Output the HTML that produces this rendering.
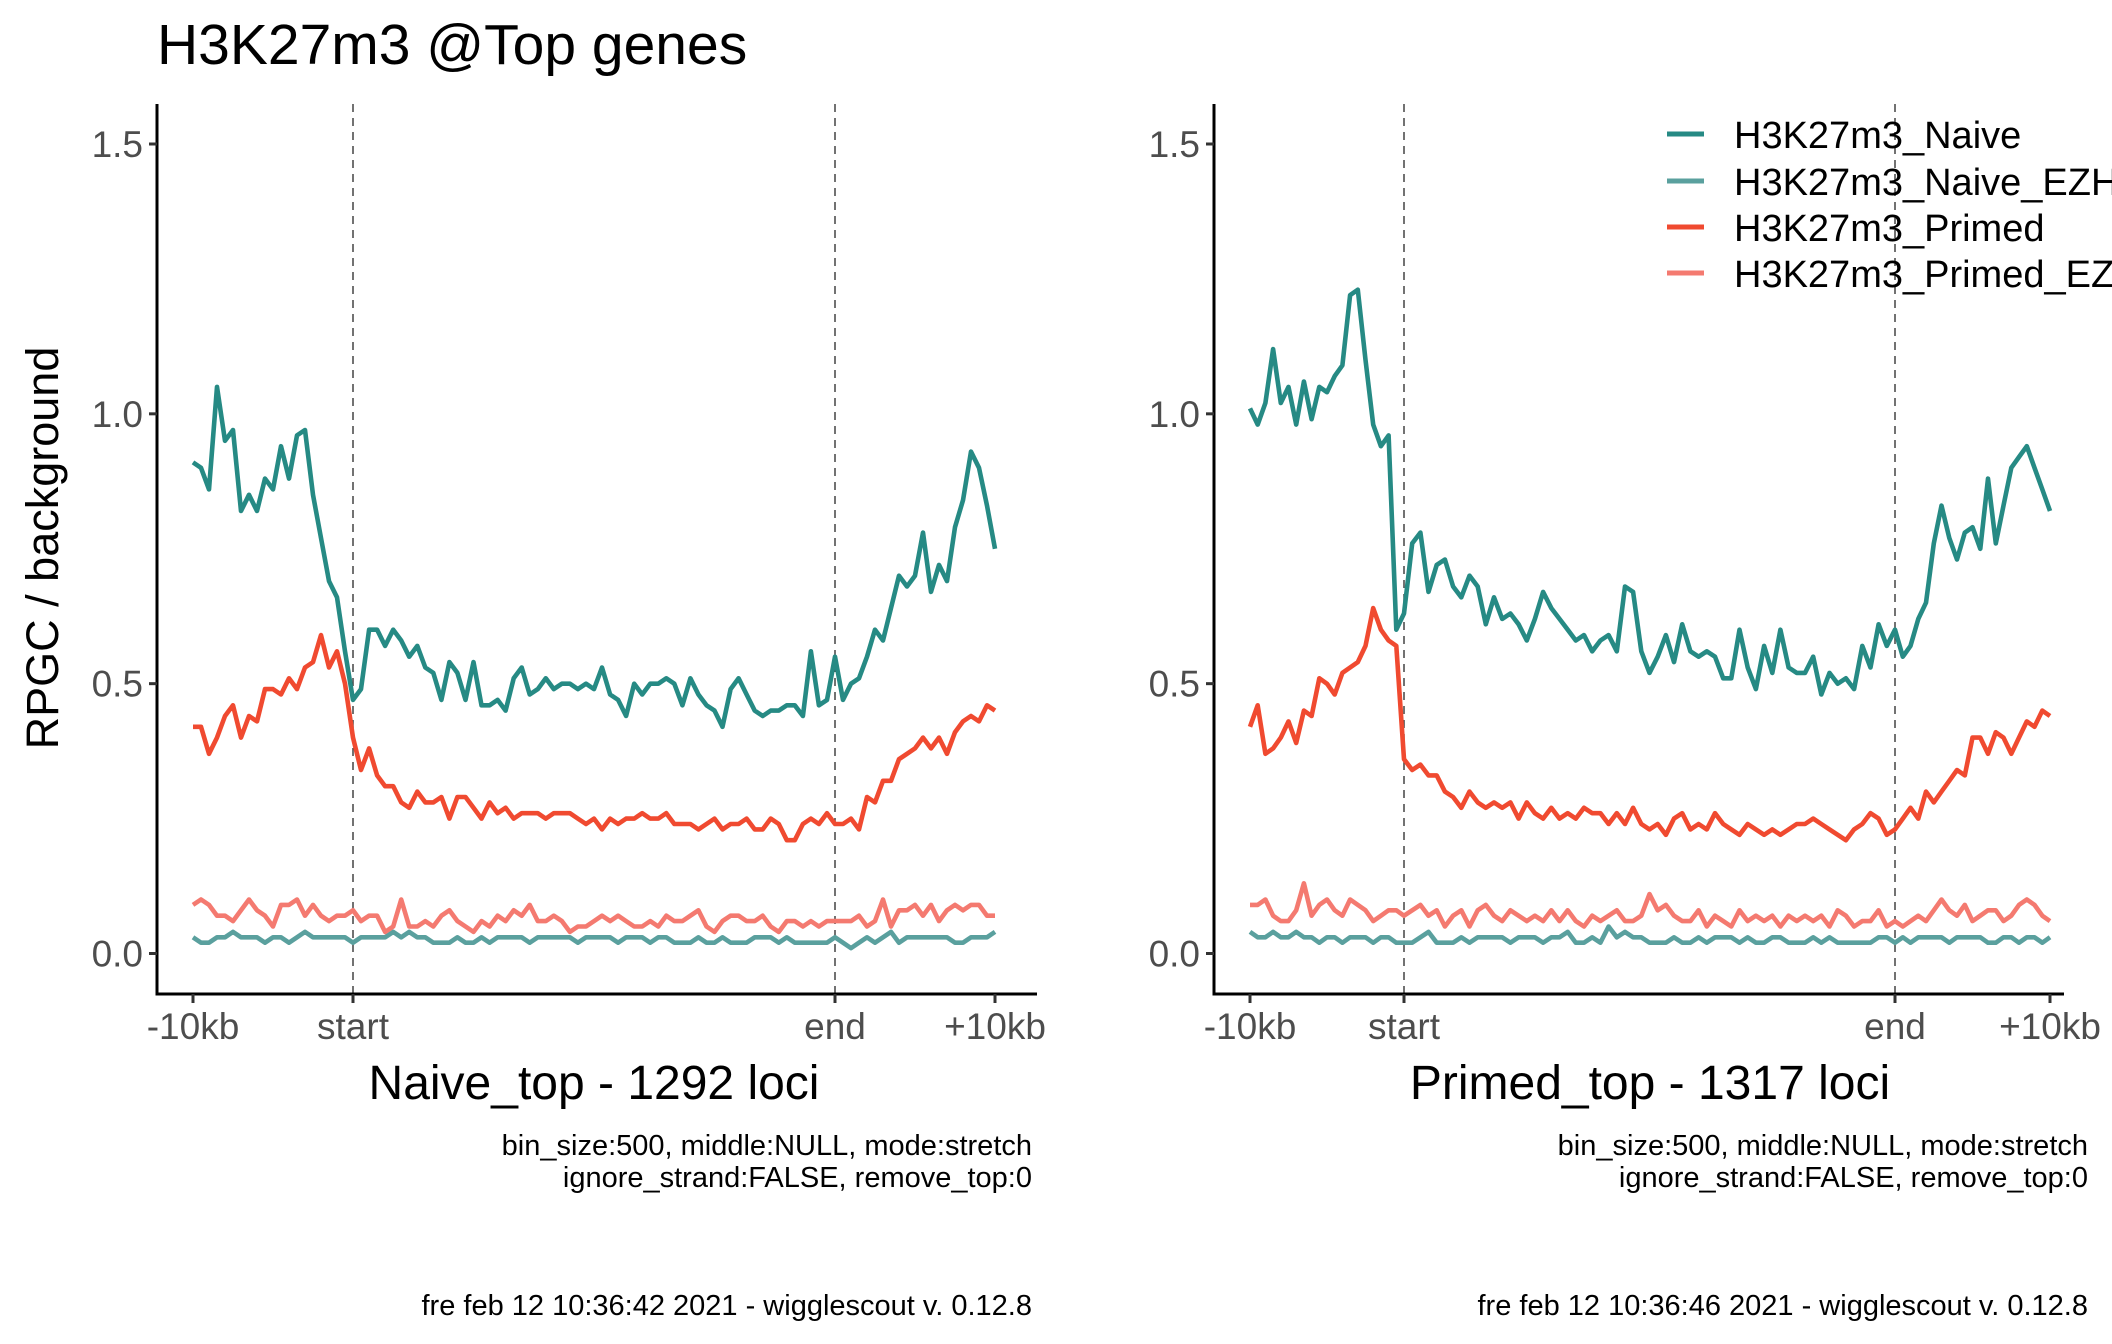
<!DOCTYPE html>
<html><head><meta charset="utf-8">
<style>
html,body{margin:0;padding:0;background:#fff;width:2112px;height:1344px;overflow:hidden}
svg{display:block;font-family:"Liberation Sans",sans-serif}
</style></head>
<body>
<svg id="chart" width="2112" height="1344" viewBox="0 0 2112 1344">
<text x="157" y="64" font-size="57" fill="#000">H3K27m3 @Top genes</text>
<text transform="translate(58,548) rotate(-90)" text-anchor="middle" font-size="45" fill="#000">RPGC / background</text>
<g id="plots"></g>
<g>
 <g><line x1="1667" y1="134" x2="1704" y2="134" stroke="#268a84" stroke-width="5"/><text x="1734" y="148" font-size="38">H3K27m3_Naive</text></g>
 <g><line x1="1667" y1="181" x2="1704" y2="181" stroke="#5aa09e" stroke-width="5"/><text x="1734" y="195" font-size="38">H3K27m3_Naive_EZH</text></g>
 <g><line x1="1667" y1="227" x2="1704" y2="227" stroke="#f04a30" stroke-width="5"/><text x="1734" y="241" font-size="38">H3K27m3_Primed</text></g>
 <g><line x1="1667" y1="273" x2="1704" y2="273" stroke="#f47a70" stroke-width="5"/><text x="1734" y="287" font-size="38">H3K27m3_Primed_EZ</text></g>
</g>
</svg>
<script>
const yTicks=[0,0.5,1.0,1.5];
const yTickLabels=["0.0","0.5","1.0","1.5"];
const xTickLabels=["-10kb","start","end","+10kb"];
const seriesNames=["H3K27m3_Naive","H3K27m3_Naive_EZH","H3K27m3_Primed","H3K27m3_Primed_EZH"];
const seriesColors=["#268a84","#5aa09e","#f04a30","#f47a70"];
const panelTitles=["Naive_top - 1292 loci","Primed_top - 1317 loci"];
const footers=["fre feb 12 10:36:42 2021 - wigglescout v. 0.12.8","fre feb 12 10:36:46 2021 - wigglescout v. 0.12.8"];
const L_naive=[0.91,0.90,0.86,1.05,0.95,0.97,0.82,0.85,0.82,0.88,0.86,0.94,0.88,0.96,0.97,0.85,0.77,0.69,0.66,0.56,0.47,
0.49,0.60,0.60,0.57,0.60,0.58,0.55,0.57,0.53,0.52,0.47,0.54,0.52,0.47,0.54,0.46,0.46,0.47,0.45,0.51,0.53,0.48,0.49,0.51,0.49,0.50,0.50,0.49,0.50,0.49,0.53,0.48,0.47,0.44,0.50,0.48,0.50,0.50,0.51,0.50,0.46,0.51,0.48,0.46,0.45,0.42,0.49,0.51,0.48,0.45,0.44,0.45,0.45,0.46,0.46,0.44,0.56,0.46,0.47,0.55,
0.47,0.50,0.51,0.55,0.60,0.58,0.64,0.70,0.68,0.70,0.78,0.67,0.72,0.69,0.79,0.84,0.93,0.90,0.83,0.75];
const L_naiveEZH=[0.03,0.02,0.02,0.03,0.03,0.04,0.03,0.03,0.03,0.02,0.03,0.03,0.02,0.03,0.04,0.03,0.03,0.03,0.03,0.03,0.02,
0.03,0.03,0.03,0.03,0.04,0.03,0.04,0.03,0.03,0.02,0.02,0.02,0.03,0.02,0.02,0.03,0.02,0.03,0.03,0.03,0.03,0.02,0.03,0.03,0.03,0.03,0.03,0.02,0.03,0.03,0.03,0.03,0.02,0.03,0.03,0.03,0.02,0.03,0.03,0.02,0.02,0.02,0.03,0.02,0.02,0.03,0.02,0.02,0.02,0.03,0.03,0.03,0.02,0.03,0.02,0.02,0.02,0.02,0.02,0.03,
0.02,0.01,0.02,0.03,0.02,0.03,0.04,0.02,0.03,0.03,0.03,0.03,0.03,0.03,0.02,0.02,0.03,0.03,0.03,0.04];
const L_primed=[0.42,0.42,0.37,0.40,0.44,0.46,0.40,0.44,0.43,0.49,0.49,0.48,0.51,0.49,0.53,0.54,0.59,0.53,0.56,0.50,0.40,
0.34,0.38,0.33,0.31,0.31,0.28,0.27,0.30,0.28,0.28,0.29,0.25,0.29,0.29,0.27,0.25,0.28,0.26,0.27,0.25,0.26,0.26,0.26,0.25,0.26,0.26,0.26,0.25,0.24,0.25,0.23,0.25,0.24,0.25,0.25,0.26,0.25,0.25,0.26,0.24,0.24,0.24,0.23,0.24,0.25,0.23,0.24,0.24,0.25,0.23,0.23,0.25,0.24,0.21,0.21,0.24,0.25,0.24,0.26,0.24,
0.24,0.25,0.23,0.29,0.28,0.32,0.32,0.36,0.37,0.38,0.40,0.38,0.40,0.37,0.41,0.43,0.44,0.43,0.46,0.45];
const L_primedEZH=[0.09,0.10,0.09,0.07,0.07,0.06,0.08,0.10,0.08,0.07,0.05,0.09,0.09,0.10,0.07,0.09,0.07,0.06,0.07,0.07,0.08,
0.06,0.07,0.07,0.04,0.05,0.10,0.05,0.05,0.06,0.05,0.07,0.08,0.06,0.05,0.04,0.06,0.05,0.07,0.06,0.08,0.07,0.09,0.06,0.06,0.07,0.06,0.04,0.05,0.05,0.06,0.07,0.06,0.07,0.06,0.05,0.05,0.06,0.05,0.07,0.06,0.06,0.07,0.08,0.05,0.04,0.06,0.07,0.07,0.06,0.06,0.07,0.05,0.04,0.06,0.06,0.05,0.06,0.05,0.06,0.06,
0.06,0.06,0.07,0.05,0.06,0.10,0.05,0.08,0.08,0.09,0.07,0.09,0.06,0.08,0.09,0.08,0.09,0.09,0.07,0.07];
const R_naive=[1.01,0.98,1.02,1.12,1.02,1.05,0.98,1.06,0.99,1.05,1.04,1.07,1.09,1.22,1.23,1.10,0.98,0.94,0.96,0.60,0.63,
0.76,0.78,0.67,0.72,0.73,0.68,0.66,0.70,0.68,0.61,0.66,0.62,0.63,0.61,0.58,0.62,0.67,0.64,0.62,0.60,0.58,0.59,0.56,0.58,0.59,0.56,0.68,0.67,0.56,0.52,0.55,0.59,0.54,0.61,0.56,0.55,0.56,0.55,0.51,0.51,0.60,0.53,0.49,0.57,0.52,0.60,0.53,0.52,0.52,0.55,0.48,0.52,0.50,0.51,0.49,0.57,0.53,0.61,0.57,0.60,
0.55,0.57,0.62,0.65,0.76,0.83,0.77,0.73,0.78,0.79,0.75,0.88,0.76,0.83,0.90,0.92,0.94,0.90,0.86,0.82];
const R_naiveEZH=[0.04,0.03,0.03,0.04,0.03,0.03,0.04,0.03,0.03,0.02,0.03,0.03,0.02,0.03,0.03,0.03,0.02,0.03,0.03,0.02,0.02,
0.02,0.03,0.04,0.02,0.02,0.02,0.03,0.02,0.03,0.03,0.03,0.03,0.02,0.03,0.03,0.03,0.02,0.03,0.03,0.04,0.02,0.02,0.03,0.02,0.05,0.03,0.04,0.03,0.03,0.02,0.02,0.02,0.03,0.02,0.02,0.03,0.02,0.03,0.03,0.03,0.02,0.03,0.02,0.02,0.03,0.03,0.02,0.02,0.02,0.03,0.02,0.03,0.02,0.02,0.02,0.02,0.02,0.03,0.03,0.02,
0.03,0.02,0.03,0.03,0.03,0.03,0.02,0.03,0.03,0.03,0.03,0.02,0.02,0.03,0.03,0.02,0.03,0.03,0.02,0.03];
const R_primed=[0.42,0.46,0.37,0.38,0.40,0.43,0.39,0.45,0.44,0.51,0.50,0.48,0.52,0.53,0.54,0.57,0.64,0.60,0.58,0.57,0.36,
0.34,0.35,0.33,0.33,0.30,0.29,0.27,0.30,0.28,0.27,0.28,0.27,0.28,0.25,0.28,0.26,0.25,0.27,0.25,0.26,0.25,0.27,0.26,0.26,0.24,0.26,0.24,0.27,0.24,0.23,0.24,0.22,0.25,0.26,0.23,0.24,0.23,0.26,0.24,0.23,0.22,0.24,0.23,0.22,0.23,0.22,0.23,0.24,0.24,0.25,0.24,0.23,0.22,0.21,0.23,0.24,0.26,0.25,0.22,0.23,
0.25,0.27,0.25,0.30,0.28,0.30,0.32,0.34,0.33,0.40,0.40,0.37,0.41,0.40,0.37,0.40,0.43,0.42,0.45,0.44];
const R_primedEZH=[0.09,0.09,0.10,0.07,0.06,0.06,0.08,0.13,0.07,0.09,0.10,0.08,0.07,0.10,0.09,0.08,0.06,0.07,0.08,0.08,0.07,
0.08,0.09,0.07,0.08,0.05,0.07,0.08,0.05,0.08,0.09,0.07,0.06,0.08,0.07,0.06,0.07,0.06,0.08,0.06,0.08,0.06,0.05,0.07,0.06,0.07,0.08,0.06,0.06,0.07,0.11,0.08,0.09,0.07,0.06,0.06,0.08,0.05,0.07,0.06,0.05,0.08,0.06,0.07,0.06,0.07,0.05,0.07,0.06,0.07,0.06,0.07,0.05,0.08,0.07,0.05,0.06,0.06,0.08,0.05,0.06,
0.05,0.06,0.07,0.06,0.08,0.10,0.08,0.07,0.09,0.06,0.07,0.08,0.08,0.06,0.07,0.09,0.10,0.09,0.07,0.06];
const panelSeries=[[L_naive,L_naiveEZH,L_primed,L_primedEZH],[R_naive,R_naiveEZH,R_primed,R_primedEZH]];
const panelGeom=[{ax:157,px:[193,353,835,995],right:1032,titleX:594},{ax:1214,px:[1250,1404,1895,2050],right:2088,titleX:1650}];
const NS="http://www.w3.org/2000/svg";
const Y0=953.5, YPER=(953.5-144)/1.5, AXY=994;
function yScale(v){return Y0-v*YPER;}
function mk(tag,attrs,parent){const e=document.createElementNS(NS,tag);for(const k in attrs)e.setAttribute(k,attrs[k]);parent.appendChild(e);return e;}
function xScale(g,i){const p=g.px;if(i<=20)return p[0]+(p[1]-p[0])*i/20;if(i<=80)return p[1]+(p[2]-p[1])*(i-20)/60;return p[2]+(p[3]-p[2])*(i-80)/20;}
const root=document.getElementById('plots');
panelGeom.forEach((g,pi)=>{
  const grp=mk('g',{},root);
  
  
  [1,2].forEach(k=>{const l=mk('line',{x1:g.px[k],x2:g.px[k],y1:104,y2:AXY,stroke:'#444','stroke-width':1.5,'stroke-dasharray':'8,6'},grp);
    
    });
  panelSeries[pi].forEach((arr,si)=>{
    let d=arr.map((v,i)=>(i?'L':'M')+xScale(g,i).toFixed(1)+','+yScale(v).toFixed(1)).join('');
    const p=mk('path',{d:d,fill:'none',stroke:seriesColors[si],'stroke-width':4.6,'stroke-linejoin':'round'},grp);
    
    
  });
  const ya=mk('line',{x1:g.ax,x2:g.ax,y1:104,y2:AXY+1.5,stroke:'#000','stroke-width':3},grp);
  
  
  const xa=mk('line',{x1:g.ax-1.5,x2:g.ax+(pi?850:880),y1:AXY,y2:AXY,stroke:'#000','stroke-width':3},grp);
  
  
  yTicks.forEach((t,k)=>{
    mk('line',{x1:g.ax-8,x2:g.ax,y1:yScale(t),y2:yScale(t),stroke:'#333','stroke-width':3},grp);
    const tx=mk('text',{x:g.ax-14,y:yScale(t)+13,'text-anchor':'end','font-size':37,fill:'#4d4d4d'},grp);
    tx.textContent=yTickLabels[k];
    
    
  });
  g.px.forEach((x,k)=>{
    mk('line',{x1:x,x2:x,y1:AXY,y2:AXY+9,stroke:'#333','stroke-width':3},grp);
    const tx=mk('text',{x:x,y:AXY+45,'text-anchor':'middle','font-size':37,fill:'#4d4d4d'},grp);
    tx.textContent=xTickLabels[k];
    
    
  });
  const tt=mk('text',{x:g.titleX,y:1099,'text-anchor':'middle','font-size':48,fill:'#000'},grp);
  tt.textContent=panelTitles[pi];
  
  
  const c1=mk('text',{x:g.right,y:1155,'text-anchor':'end','font-size':29,fill:'#000'},grp);
  c1.textContent='bin_size:500, middle:NULL, mode:stretch';
  
  
  const c2=mk('text',{x:g.right,y:1187,'text-anchor':'end','font-size':29,fill:'#000'},grp);
  c2.textContent='ignore_strand:FALSE, remove_top:0';
  
  
  const f=mk('text',{x:g.right,y:1315,'text-anchor':'end','font-size':29,fill:'#000'},grp);
  f.textContent=footers[pi];
  
  
});
</script>
</body></html>
